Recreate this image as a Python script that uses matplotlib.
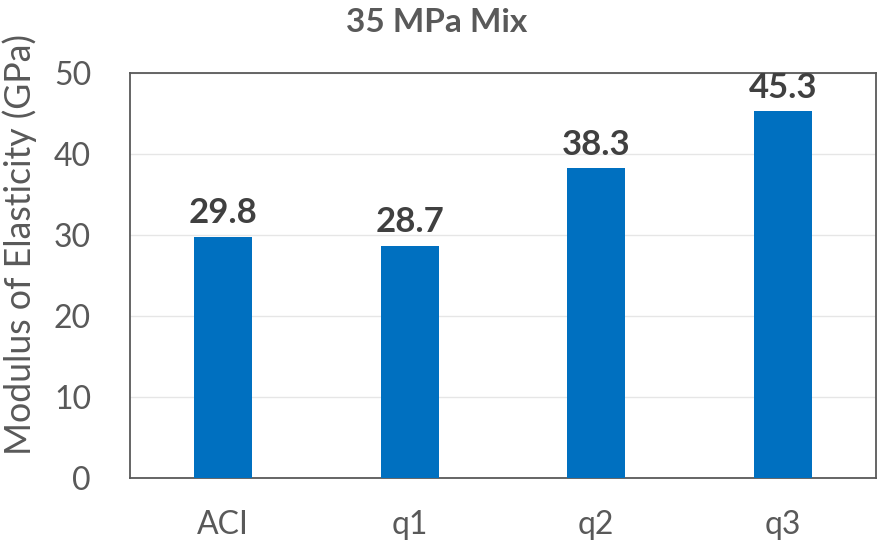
import matplotlib.pyplot as plt
import numpy as np

categories = ['ACI', 'q1', 'q2', 'q3']
modulus = [29.8, 28.7, 38.3, 45.3]
y_ticks = [0, 10, 20, 30, 40, 50]

plt.rcParams['font.family'] = ['Lato', 'DejaVu Sans']

fig = plt.figure(figsize=(8.78, 5.46), dpi=100)
ax = fig.add_axes([0.148, 0.1245, 0.8497, 0.7415])

x = np.arange(len(categories))
bars = ax.bar(x, modulus, width=0.31, color='#0070C0', zorder=3)

for rect, val in zip(bars, modulus):
    ax.text(rect.get_x() + rect.get_width() / 2, val + 0.9, f'{val:.1f}',
            ha='center', va='bottom', fontsize=25, fontweight='bold',
            color='#404040')

ax.set_xlim(-0.5, len(categories) - 0.5)
ax.set_ylim(0, 50)
ax.set_xticks(x)
ax.set_xticklabels(categories)
ax.set_yticks(y_ticks)
ax.tick_params(axis='both', length=0, labelsize=23, colors='#595959')
ax.tick_params(axis='x', pad=23)
ax.tick_params(axis='y', pad=28)
ax.yaxis.grid(True, color='#E6E6E6', linewidth=1, zorder=0)

for side in ['left', 'right', 'top', 'bottom']:
    ax.spines[side].set_color('#595959')
    ax.spines[side].set_linewidth(1.3)

ax.set_ylabel('Modulus of Elasticity (GPa)', fontsize=25.7, color='#595959')
ax.yaxis.set_label_coords(-0.125, 0.578)
fig.text(0.497, 0.958, '35 MPa Mix', ha='center', va='center', fontsize=24,
         fontweight='bold', color='#595959')

fig.savefig('out.png', dpi=100)
